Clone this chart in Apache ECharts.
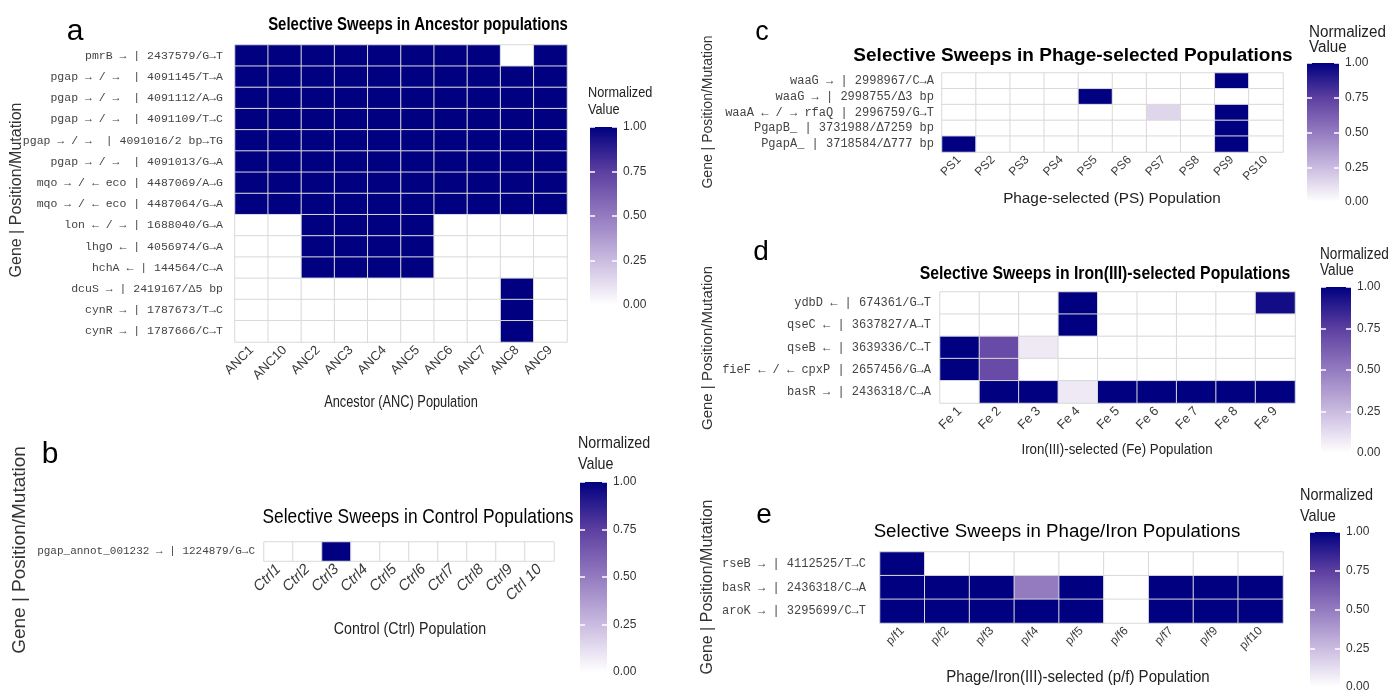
<!DOCTYPE html>
<html lang="en">
<head>
<meta charset="UTF-8">
<title>Selective Sweeps</title>
<script src="https://cdn.jsdelivr.net/npm/echarts@6/dist/echarts.min.js"></script>
<style>html,body{margin:0;padding:0;background:#fff;}</style>
</head>
<body>
<div id="main" style="width:1389px;height:693px;"></div>
<script>
// ---- data: panel a (ancestor) ----
var ancCols = ['ANC1', 'ANC10', 'ANC2', 'ANC3', 'ANC4', 'ANC5', 'ANC6', 'ANC7', 'ANC8', 'ANC9'];
var ancRows = [
  'pmrB \u2192 | 2437579/G\u2192T',
  'pgap \u2192 / \u2192  | 4091145/T\u2192A',
  'pgap \u2192 / \u2192  | 4091112/A\u2192G',
  'pgap \u2192 / \u2192  | 4091109/T\u2192C',
  'pgap \u2192 / \u2192  | 4091016/2 bp\u2192TG',
  'pgap \u2192 / \u2192  | 4091013/G\u2192A',
  'mqo \u2192 / \u2190 eco | 4487069/A\u2192G',
  'mqo \u2192 / \u2190 eco | 4487064/G\u2192A',
  'lon \u2190 / \u2192 | 1688040/G\u2192A',
  'lhgO \u2190 | 4056974/G\u2192A',
  'hchA \u2190 | 144564/C\u2192A',
  'dcuS \u2192 | 2419167/\u03945 bp',
  'cynR \u2192 | 1787673/T\u2192C',
  'cynR \u2192 | 1787666/C\u2192T'
];
var ancValues = [
  [1, 1, 1, 1, 1, 1, 1, 1, 0, 1],
  [1, 1, 1, 1, 1, 1, 1, 1, 1, 1],
  [1, 1, 1, 1, 1, 1, 1, 1, 1, 1],
  [1, 1, 1, 1, 1, 1, 1, 1, 1, 1],
  [1, 1, 1, 1, 1, 1, 1, 1, 1, 1],
  [1, 1, 1, 1, 1, 1, 1, 1, 1, 1],
  [1, 1, 1, 1, 1, 1, 1, 1, 1, 1],
  [1, 1, 1, 1, 1, 1, 1, 1, 1, 1],
  [0, 0, 1, 1, 1, 1, 0, 0, 0, 0],
  [0, 0, 1, 1, 1, 1, 0, 0, 0, 0],
  [0, 0, 1, 1, 1, 1, 0, 0, 0, 0],
  [0, 0, 0, 0, 0, 0, 0, 0, 1, 0],
  [0, 0, 0, 0, 0, 0, 0, 0, 1, 0],
  [0, 0, 0, 0, 0, 0, 0, 0, 1, 0]
];

// ---- panel b (control) ----
var ctrlCols = ['Ctrl1', 'Ctrl2', 'Ctrl3', 'Ctrl4', 'Ctrl5', 'Ctrl6', 'Ctrl7', 'Ctrl8', 'Ctrl9', 'Ctrl 10'];
var ctrlRows = ['pgap_annot_001232 \u2192 | 1224879/G\u2192C'];
var ctrlValues = [
  [0, 0, 1, 0, 0, 0, 0, 0, 0, 0]
];

// ---- panel c (phage-selected) ----
var psCols = ['PS1', 'PS2', 'PS3', 'PS4', 'PS5', 'PS6', 'PS7', 'PS8', 'PS9', 'PS10'];
var psRows = [
  'waaG \u2192 | 2998967/C\u2192A',
  'waaG \u2192 | 2998755/\u03943 bp',
  'waaA \u2190 / \u2192 rfaQ | 2996759/G\u2192T',
  'PgapB_ | 3731988/\u03947259 bp',
  'PgapA_ | 3718584/\u0394777 bp'
];
var psValues = [
  [0, 0, 0, 0, 0, 0, 0, 0, 1, 0],
  [0, 0, 0, 0, 1, 0, 0, 0, 0, 0],
  [0, 0, 0, 0, 0, 0, 0.15, 0, 1, 0],
  [0, 0, 0, 0, 0, 0, 0, 0, 1, 0],
  [1, 0, 0, 0, 0, 0, 0, 0, 1, 0]
];

// ---- panel d (iron(III)-selected) ----
var feCols = ['Fe 1', 'Fe 2', 'Fe 3', 'Fe 4', 'Fe 5', 'Fe 6', 'Fe 7', 'Fe 8', 'Fe 9'];
var feRows = [
  'ydbD \u2190 | 674361/G\u2192T',
  'qseC \u2190 | 3637827/A\u2192T',
  'qseB \u2190 | 3639336/C\u2192T',
  'fieF \u2190 / \u2190 cpxP | 2657456/G\u2192A',
  'basR \u2192 | 2436318/C\u2192A'
];
var feValues = [
  [0, 0, 0, 1, 0, 0, 0, 0, 0.95],
  [0, 0, 0, 1, 0, 0, 0, 0, 0],
  [1, 0.7, 0.08, 0, 0, 0, 0, 0, 0],
  [1, 0.7, 0, 0, 0, 0, 0, 0, 0],
  [0, 1, 1, 0.08, 1, 1, 1, 1, 1]
];

// ---- panel e (phage/iron) ----
var pfCols = ['p/f1', 'p/f2', 'p/f3', 'p/f4', 'p/f5', 'p/f6', 'p/f7', 'p/f9', 'p/f10'];
var pfRows = [
  'rseB \u2192 | 4112525/T\u2192C',
  'basR \u2192 | 2436318/C\u2192A',
  'aroK \u2192 | 3295699/C\u2192T'
];
var pfValues = [
  [1, 0, 0, 0, 0, 0, 0, 0, 0],
  [1, 1, 1, 0.5, 1, 0, 1, 1, 1],
  [1, 1, 1, 1, 1, 0, 1, 1, 1]
];

var legendTicks = [0, 0.25, 0.5, 0.75, 1];
// white -> navy (approximates ggplot's Lab gradient)
var palette = ['#ffffff', '#cabbe0', '#947bc0', '#5c3fa0', '#000080'];

var monoFont = "'Liberation Mono', 'Courier New', monospace";
var sansFont = "'Liberation Sans', Arial, sans-serif";

var panels = [
  {cols: ancCols, rows: ancRows, values: ancValues,
   grid: {left: 235, top: 45, width: 332, height: 297}, yFont: 11.5, yMargin: 12,
   xFont: 13, xStyle: 'normal', bar: {left: 590, top: 127, width: 27, height: 178}},
  {cols: ctrlCols, rows: ctrlRows, values: ctrlValues,
   grid: {left: 264, top: 542, width: 290, height: 19}, yFont: 11, yMargin: 9,
   xFont: 15, xStyle: 'italic', bar: {left: 580, top: 482, width: 27, height: 190}},
  {cols: psCols, rows: psRows, values: psValues,
   grid: {left: 942, top: 73, width: 341, height: 79}, yFont: 12, yMargin: 8,
   xFont: 12, xStyle: 'normal', bar: {left: 1307, top: 63, width: 32, height: 139}},
  {cols: feCols, rows: feRows, values: feValues,
   grid: {left: 940, top: 292, width: 355, height: 111}, yFont: 12, yMargin: 9,
   xFont: 13, xStyle: 'normal', bar: {left: 1321, top: 287, width: 30, height: 166}},
  {cols: pfCols, rows: pfRows, values: pfValues,
   grid: {left: 880, top: 552, width: 403, height: 71}, yFont: 12, yMargin: 14,
   xFont: 12, xStyle: 'normal', bar: {left: 1310, top: 532, width: 30, height: 156}}
];

var grids = [], xAxes = [], yAxes = [], series = [], heatIdx = [];
var stops = palette.map(function (c, i) {
  return {offset: 1 - i / (palette.length - 1), color: c};
}).reverse();

panels.forEach(function (p) {
  // heatmap grid
  var gi = grids.length;
  grids.push(p.grid);
  xAxes.push({
    type: 'category', gridIndex: gi, data: p.cols,
    axisLine: {show: false}, axisTick: {show: false}, splitLine: {show: false},
    axisLabel: {rotate: 45, interval: 0, margin: 6, fontSize: p.xFont, fontStyle: p.xStyle,
      color: '#3a3a3a', fontFamily: sansFont}
  });
  var yi = yAxes.length;
  yAxes.push({
    type: 'category', gridIndex: gi, data: p.rows, inverse: true,
    axisLine: {show: false}, axisTick: {show: false}, splitLine: {show: false},
    axisLabel: {interval: 0, margin: p.yMargin, fontSize: p.yFont, color: '#444', fontFamily: monoFont}
  });
  var data = [];
  p.values.forEach(function (row, r) {
    row.forEach(function (v, c) { data.push([c, r, v]); });
  });
  heatIdx.push(series.length);
  series.push({
    type: 'heatmap', xAxisIndex: gi, yAxisIndex: yi, data: data,
    itemStyle: {borderColor: '#d9d9d9', borderWidth: 1},
    emphasis: {disabled: true}, silent: true
  });

  // colour bar grid
  var bi = grids.length;
  grids.push(p.bar);
  xAxes.push({type: 'category', gridIndex: bi, data: ['v'], show: false});
  var rightAxis = yAxes.length;
  yAxes.push({
    type: 'value', gridIndex: bi, min: legendTicks[0], max: legendTicks[legendTicks.length - 1],
    interval: 0.25, position: 'right', z: 5,
    axisLine: {show: false}, splitLine: {show: false},
    axisTick: {show: true, inside: true, length: 5, lineStyle: {color: '#ffffff', width: 1.5}},
    axisLabel: {margin: 6, fontSize: 12, color: '#333', fontFamily: sansFont,
      formatter: function (v) { return v.toFixed(2); }}
  });
  yAxes.push({
    type: 'value', gridIndex: bi, min: 0, max: 1, interval: 0.25, position: 'left', z: 5,
    axisLine: {show: false}, splitLine: {show: false}, axisLabel: {show: false},
    axisTick: {show: true, inside: true, length: 5, lineStyle: {color: '#ffffff', width: 1.5}}
  });
  series.push({
    type: 'bar', xAxisIndex: bi, yAxisIndex: rightAxis, data: [legendTicks[legendTicks.length - 1]],
    barWidth: '100%', silent: true,
    itemStyle: {color: new echarts.graphic.LinearGradient(0, 0, 0, 1, stops)}
  });
});

// text helper; sx < 1 squeezes the text like a narrow face
function txt(x, y, text, font, extra) {
  extra = extra || {};
  return {
    type: 'text', x: x, y: y, rotation: extra.rotation || 0, silent: true,
    scaleX: extra.sx || 1,
    style: {
      text: text, font: font, fill: extra.fill || '#000',
      textAlign: extra.align || 'center', align: extra.align || 'center',
      textVerticalAlign: 'middle', verticalAlign: 'middle'
    }
  };
}

var ROT = Math.PI / 2;
var graphics = [
  // panel letters
  txt(75, 32, 'a', '30px ' + sansFont),
  txt(50, 455, 'b', '30px ' + sansFont),
  txt(762, 33, 'c', '27px ' + sansFont),
  txt(761, 252, 'd', '28px ' + sansFont),
  txt(764, 515, 'e', '28px ' + sansFont),
  // chart titles
  txt(418, 25, 'Selective Sweeps in Ancestor populations', 'bold 18px ' + sansFont, {sx: 0.83}),
  txt(418, 517, 'Selective Sweeps in Control Populations', '21px ' + sansFont, {sx: 0.825}),
  txt(1073, 56, 'Selective Sweeps in Phage-selected Populations', 'bold 19px ' + sansFont),
  txt(1105, 274, 'Selective Sweeps in Iron(III)-selected Populations', 'bold 19px ' + sansFont, {sx: 0.83}),
  txt(1057, 532, 'Selective Sweeps in Phage/Iron Populations', '18.7px ' + sansFont),
  // x-axis titles
  txt(401, 403, 'Ancestor (ANC) Population', '16px ' + sansFont, {fill: '#222', sx: 0.8}),
  txt(410, 629, 'Control (Ctrl) Population', '17px ' + sansFont, {fill: '#222', sx: 0.835}),
  txt(1112, 199, 'Phage-selected (PS) Population', '15.3px ' + sansFont, {fill: '#222'}),
  txt(1117, 450, 'Iron(III)-selected (Fe) Population', '15px ' + sansFont, {fill: '#222', sx: 0.885}),
  txt(1078, 677, 'Phage/Iron(III)-selected (p/f) Population', '17px ' + sansFont, {fill: '#222', sx: 0.885}),
  // y-axis titles
  txt(17, 190, 'Gene | Position/Mutation', '16px ' + sansFont, {rotation: ROT, fill: '#333'}),
  txt(20, 550, 'Gene | Position/Mutation', '19px ' + sansFont, {rotation: ROT, fill: '#333'}),
  txt(708, 112, 'Gene | Position/Mutation', '14px ' + sansFont, {rotation: ROT, fill: '#333'}),
  txt(708, 348, 'Gene | Position/Mutation', '15px ' + sansFont, {rotation: ROT, fill: '#333'}),
  txt(708, 587, 'Gene | Position/Mutation', '16px ' + sansFont, {rotation: ROT, fill: '#333'}),
  // legend titles
  txt(588, 93, 'Normalized', '15.5px ' + sansFont, {align: 'left', fill: '#222', sx: 0.82}),
  txt(588, 110, 'Value', '15.5px ' + sansFont, {align: 'left', fill: '#222', sx: 0.82}),
  txt(578, 443, 'Normalized', '17px ' + sansFont, {align: 'left', fill: '#222', sx: 0.84}),
  txt(578, 464, 'Value', '17px ' + sansFont, {align: 'left', fill: '#222', sx: 0.84}),
  txt(1309, 33, 'Normalized', '16px ' + sansFont, {align: 'left', fill: '#222', sx: 0.95}),
  txt(1309, 48, 'Value', '16px ' + sansFont, {align: 'left', fill: '#222', sx: 0.95}),
  txt(1320, 255, 'Normalized', '16px ' + sansFont, {align: 'left', fill: '#222', sx: 0.85}),
  txt(1320, 271, 'Value', '16px ' + sansFont, {align: 'left', fill: '#222', sx: 0.85}),
  txt(1300, 495, 'Normalized', '17px ' + sansFont, {align: 'left', fill: '#222', sx: 0.85}),
  txt(1300, 516, 'Value', '17px ' + sansFont, {align: 'left', fill: '#222', sx: 0.85})
];

var myChart = echarts.init(document.getElementById('main'));
var option = {
  backgroundColor: '#ffffff',
  animation: false,
  grid: grids,
  xAxis: xAxes,
  yAxis: yAxes,
  visualMap: {
    show: false, type: 'continuous', min: 0, max: 1,
    seriesIndex: heatIdx, inRange: {color: palette}
  },
  series: series,
  graphic: graphics
};
myChart.setOption(option);
</script>
</body>
</html>
